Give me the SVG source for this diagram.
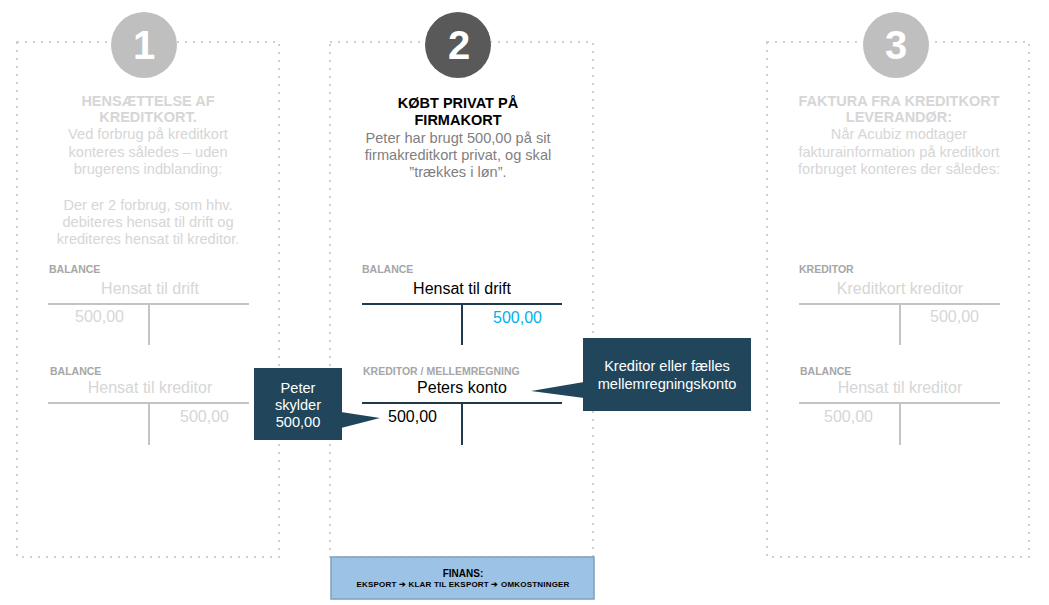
<svg xmlns="http://www.w3.org/2000/svg" width="1049" height="605" viewBox="0 0 1049 605">
<style>
text{font-family:"Liberation Sans",Arial,sans-serif}
.frame{fill:none;stroke:#d0d0d0;stroke-width:2;stroke-dasharray:2 6}
.num{font-size:40px;font-weight:bold;fill:#fff;text-anchor:middle}
.ttl{font-size:14.5px;font-weight:bold;text-anchor:middle}
.body{font-size:14.6px;text-anchor:middle}
.fade{fill:#d6d6d6}
.lbl{font-size:10.5px;font-weight:bold;fill:#a6a6a6}
.acct{font-size:16px;text-anchor:middle}
.amt{font-size:16px}
.tl{stroke:#c4c4c4;stroke-width:2;fill:none}
.td{stroke:#1f3a4c;stroke-width:2;fill:none}
.co{fill:#21465c}
.cot{font-size:14.6px;fill:#fff;text-anchor:middle}
</style>
<rect width="1049" height="605" fill="#fff"/>

<g id="step1">
<rect class="frame" x="17" y="42" width="262" height="515"/>
<circle cx="144" cy="45" r="33" fill="#bfbfbf"/>
<text class="num" x="144" y="59">1</text>
<text class="ttl fade" x="148" y="106">HENSÆTTELSE AF</text>
<text class="ttl fade" x="148" y="122">KREDITKORT.</text>
<text class="body fade" x="148" y="139">Ved forbrug på kreditkort</text>
<text class="body fade" x="148" y="157">konteres således – uden</text>
<text class="body fade" x="148" y="174">brugerens indblanding:</text>
<text class="body fade" x="148" y="210">Der er 2 forbrug, som hhv.</text>
<text class="body fade" x="148" y="227">debiteres hensat til drift og</text>
<text class="body fade" x="148" y="244">krediteres hensat til kreditor.</text>
</g>

<g id="step1-acct1">
<text class="lbl" x="49" y="273">BALANCE</text>
<text class="acct fade" x="150" y="294">Hensat til drift</text>
<path class="tl" d="M48 304H249M149 304V345"/>
<text class="amt fade" x="75" y="322">500,00</text>
</g>
<g id="step1-acct2">
<text class="lbl" x="50" y="375">BALANCE</text>
<text class="acct fade" x="150" y="393">Hensat til kreditor</text>
<path class="tl" d="M48 403H249M149 403V445"/>
<text class="amt fade" x="180" y="422">500,00</text>
</g>

<g id="step2">
<rect class="frame" x="330" y="42" width="263" height="515"/>
<circle cx="458" cy="45" r="33" fill="#595959"/>
<text class="num" x="459" y="59">2</text>
<text class="ttl" x="458" y="108" fill="#000">KØBT PRIVAT PÅ</text>
<text class="ttl" x="458" y="125" fill="#000">FIRMAKORT</text>
<text class="body" x="458" y="143" fill="#7f7f7f">Peter har brugt 500,00 på sit</text>
<text class="body" x="458" y="160" fill="#7f7f7f">firmakreditkort privat, og skal</text>
<text class="body" x="458" y="177" fill="#7f7f7f">”trækkes i løn”.</text>
</g>

<g id="step2-acct1">
<text class="lbl" x="362" y="273">BALANCE</text>
<text class="acct" x="462" y="294" fill="#000">Hensat til drift</text>
<path class="td" d="M362 304H562M462 304V345"/>
<text class="amt" x="493" y="323" fill="#00b0f0">500,00</text>
</g>
<g id="step2-acct2">
<text class="lbl" x="363" y="375">KREDITOR / MELLEMREGNING</text>
<text class="acct" x="462" y="393" fill="#000">Peters konto</text>
<path class="td" d="M362 403H562M462 403V445"/>
<text class="amt" x="388" y="422" fill="#000">500,00</text>
</g>

<g id="step3">
<rect class="frame" x="767" y="42" width="262" height="515"/>
<circle cx="896" cy="45" r="33" fill="#bfbfbf"/>
<text class="num" x="896" y="59">3</text>
<text class="ttl fade" x="899" y="106">FAKTURA FRA KREDITKORT</text>
<text class="ttl fade" x="899" y="122">LEVERANDØR:</text>
<text class="body fade" x="899" y="139">Når Acubiz modtager</text>
<text class="body fade" x="899" y="157">fakturainformation på kreditkort</text>
<text class="body fade" x="899" y="174">forbruget konteres der således:</text>
</g>

<g id="step3-acct1">
<text class="lbl" x="799" y="273">KREDITOR</text>
<text class="acct fade" x="900" y="294">Kreditkort kreditor</text>
<path class="tl" d="M799 304H1000M900 304V345"/>
<text class="amt fade" x="930" y="322">500,00</text>
</g>
<g id="step3-acct2">
<text class="lbl" x="800" y="375">BALANCE</text>
<text class="acct fade" x="900" y="393">Hensat til kreditor</text>
<path class="tl" d="M799 403H1000M900 403V445"/>
<text class="amt fade" x="824" y="422">500,00</text>
</g>

<g id="callout-peter">
<rect class="co" x="254" y="368" width="88" height="72"/>
<text class="cot" x="298" y="393">Peter</text>
<text class="cot" x="298" y="410">skylder</text>
<text class="cot" x="298" y="427">500,00</text>
</g>

<g id="callout-kreditor">
<rect class="co" x="583" y="338" width="168" height="73"/>
<text class="cot" x="667" y="371">Kreditor eller fælles</text>
<text class="cot" x="667" y="389">mellemregningskonto</text>
</g>

<g id="finans">
<rect x="331" y="557" width="263" height="42" fill="#9cc3e5" stroke="#7f9fbc" stroke-width="1.5"/>
<text x="463" y="577" font-size="10" font-weight="bold" text-anchor="middle" fill="#000">FINANS:</text>
<text x="463" y="587" font-size="8" font-weight="bold" text-anchor="middle" fill="#000" letter-spacing="0.2">EKSPORT ➔ KLAR TIL EKSPORT ➔ OMKOSTNINGER</text>
</g>

<g id="connectors">
<path class="co" d="M341 412L380 418L341 428Z"/>
<path class="co" d="M584 382L531 391L584 398Z"/>
</g>
</svg>
